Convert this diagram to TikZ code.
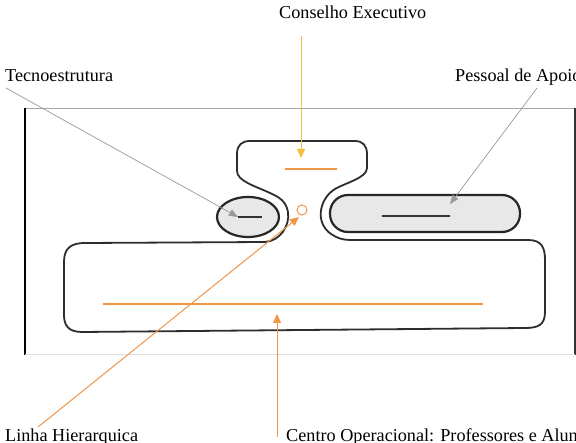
\documentclass[tikz,border=0pt]{standalone}
\usepackage{fontspec}
\setmainfont{Liberation Serif}
\usetikzlibrary{arrows.meta}
\definecolor{orng}{RGB}{240,150,70}
\definecolor{gold}{RGB}{245,190,60}
\definecolor{outl}{RGB}{45,45,45}
\tikzset{
  lbl/.style={anchor=base west, inner sep=0pt, font=\fontsize{18.2}{21}\selectfont},
  greyarrow/.style={draw=gray!80, line width=0.7pt, -{Triangle[length=9pt,width=7pt]}},
  orarrow/.style={draw=orng, line width=1pt, -{Triangle[length=9pt,width=8pt]}},
  goldarrow/.style={draw=gold, line width=1pt, -{Triangle[length=9pt,width=8pt]}},
  blob/.style={draw=black!85, line width=2.2pt, fill=gray!18},
  outline/.style={draw=outl, line width=1.8pt},
  orline/.style={draw=orng, line width=1.2pt},
}
\begin{document}
\begin{tikzpicture}[x=1pt,y=-1pt]
\clip (0,0) rectangle (576,443);
\fill[white] (0,0) rectangle (576,443);
% frame
\draw[gray!70, line width=0.9pt] (25,108) -- (575,108);
\draw[black, line width=1.2pt] (25,108) -- (25,355);
\draw[black!80, line width=1.2pt] (575,108) -- (575,355);
\draw[gray!25, line width=1pt] (25,355) -- (575,355);
% main outline
\draw[outline] (250,141) -- (355,141)
  .. controls (363,141) and (367,146) .. (367,154) -- (367,168)
  .. controls (367,178) and (345,183) .. (335,189)
  .. controls (320,198) and (314,222) .. (331,234)
  .. controls (337,238) and (342,240) .. (352,240)
  -- (528,240)
  .. controls (542,240) and (545,248) .. (545,260) -- (545,312)
  .. controls (545,325) and (538,328) .. (525,328)
  -- (82,332)
  .. controls (68,332) and (64,325) .. (64,315) -- (64,262)
  .. controls (64,249) and (70,243) .. (85,243)
  -- (265,242)
  .. controls (280,241) and (290,226) .. (288,212)
  .. controls (286,201) and (279,197) .. (270,193)
  .. controls (255,186) and (237,181) .. (237,171) -- (237,154)
  .. controls (237,145) and (242,141) .. (250,141) -- cycle;
% ellipse and pill
\draw[blob] (248,217) ellipse [x radius=31, y radius=20];
\draw[blob, rounded corners=18pt] (330,195) rectangle (520,232);
\draw[black!80, line width=1.2pt] (238,217) -- (262,217);
\draw[black!80, line width=1.2pt] (382,216) -- (450,216);
% orange lines
\draw[orline] (285,169) -- (337,169);
\draw[orline] (103,304) -- (483,304);
\node[draw=orng, line width=1pt, circle, minimum size=10pt, inner sep=0pt] (hub) at (302,210) {};
% labels
\node[lbl] (ce) at (279,19) {Conselho Executivo};
\node[lbl] (te) at (5,82) {Tecnoestrutura};
\node[lbl] (pa) at (455,82) {Pessoal de Apoio};
\node[lbl] (lh) at (5,442) {Linha Hierarquica};
\node[lbl] (co) at (286,442) {Centro Operacional: Professores e Alunos};
% arrow endpoints
\coordinate (ceS) at (301,36);
\coordinate (ceT) at (301,158);
\coordinate (teS) at (6,88);
\coordinate (teT) at (238,217);
\coordinate (paS) at (537,88);
\coordinate (paT) at (450,204);
\coordinate (lhS) at (38,427);
\coordinate (lhT) at (299,217);
\coordinate (coS) at (277,437);
\coordinate (coT) at (277,314);
\draw[goldarrow] (ceS) -- (ceT);
\draw[greyarrow] (teS) -- (teT);
\draw[greyarrow] (paS) -- (paT);
\draw[orarrow] (lhS) -- (lhT);
\draw[orarrow] (coS) -- (coT);
\end{tikzpicture}
\end{document}
